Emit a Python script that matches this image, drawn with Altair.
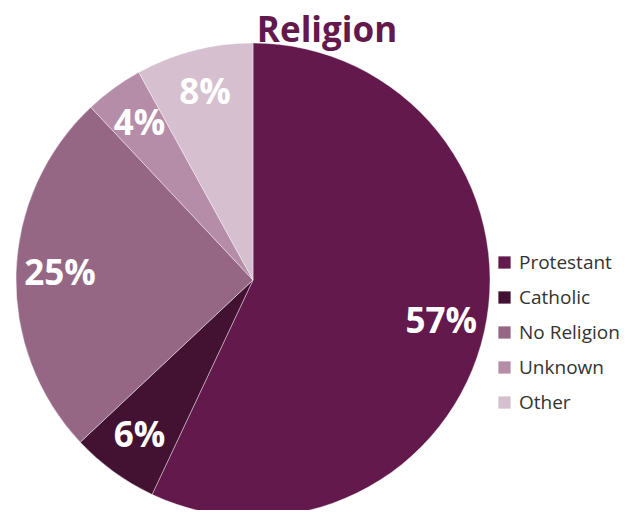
import altair as alt
import pandas as pd

categories = ["Protestant", "Catholic", "No Religion", "Unknown", "Other"]
values = [57, 6, 25, 4, 8]
colors = ["#63194B", "#431232", "#956784", "#B68DA8", "#D6BFCE"]

df = pd.DataFrame({
    "religion": categories,
    "value": values,
    "order": list(range(len(categories))),
})
df["label"] = df["value"].astype(str) + "%"

W, H = 621, 502
CX, CY = 245, 272

base = alt.Chart(df).encode(
    theta=alt.Theta("value:Q", stack=True),
    order=alt.Order("order:Q", sort="ascending"),
)

color = alt.Color(
    "religion:N",
    scale=alt.Scale(domain=categories, range=colors),
    sort=categories,
    legend=alt.Legend(
        title=None,
        orient="none",
        legendX=487,
        legendY=245,
        symbolType="square",
        symbolSize=150,
        symbolStrokeWidth=0,
        labelFontSize=19,
        labelFont="Open Sans",
        labelColor="#333333",
        rowPadding=15,
        labelOffset=5,
    ),
)

pie = base.mark_arc(stroke="#ffffff", strokeWidth=0.4).encode(
    color=color,
    x=alt.value(CX),
    y=alt.value(CY),
    radius=alt.value(237),
)

labels = base.mark_text(
    font="Open Sans", fontWeight="bold", fontSize=35, color="white",
    align="center", baseline="middle",
).encode(
    text="label:N",
    x=alt.value(CX),
    y=alt.value(CY),
    radius=alt.value(193),
)

title = alt.Chart(pd.DataFrame({"t": ["Religion"]})).mark_text(
    font="Open Sans", fontWeight="bold", fontSize=35, color="#63194B",
    align="center", baseline="alphabetic",
).encode(
    text="t:N",
    x=alt.value(319),
    y=alt.value(34),
)

chart = alt.layer(pie, labels, title).properties(
    width=W, height=H, padding=0,
    autosize=alt.AutoSizeParams(type="none"),
).configure_view(stroke=None)

chart.save("out.html", embed_options={"renderer": "svg", "actions": False})
